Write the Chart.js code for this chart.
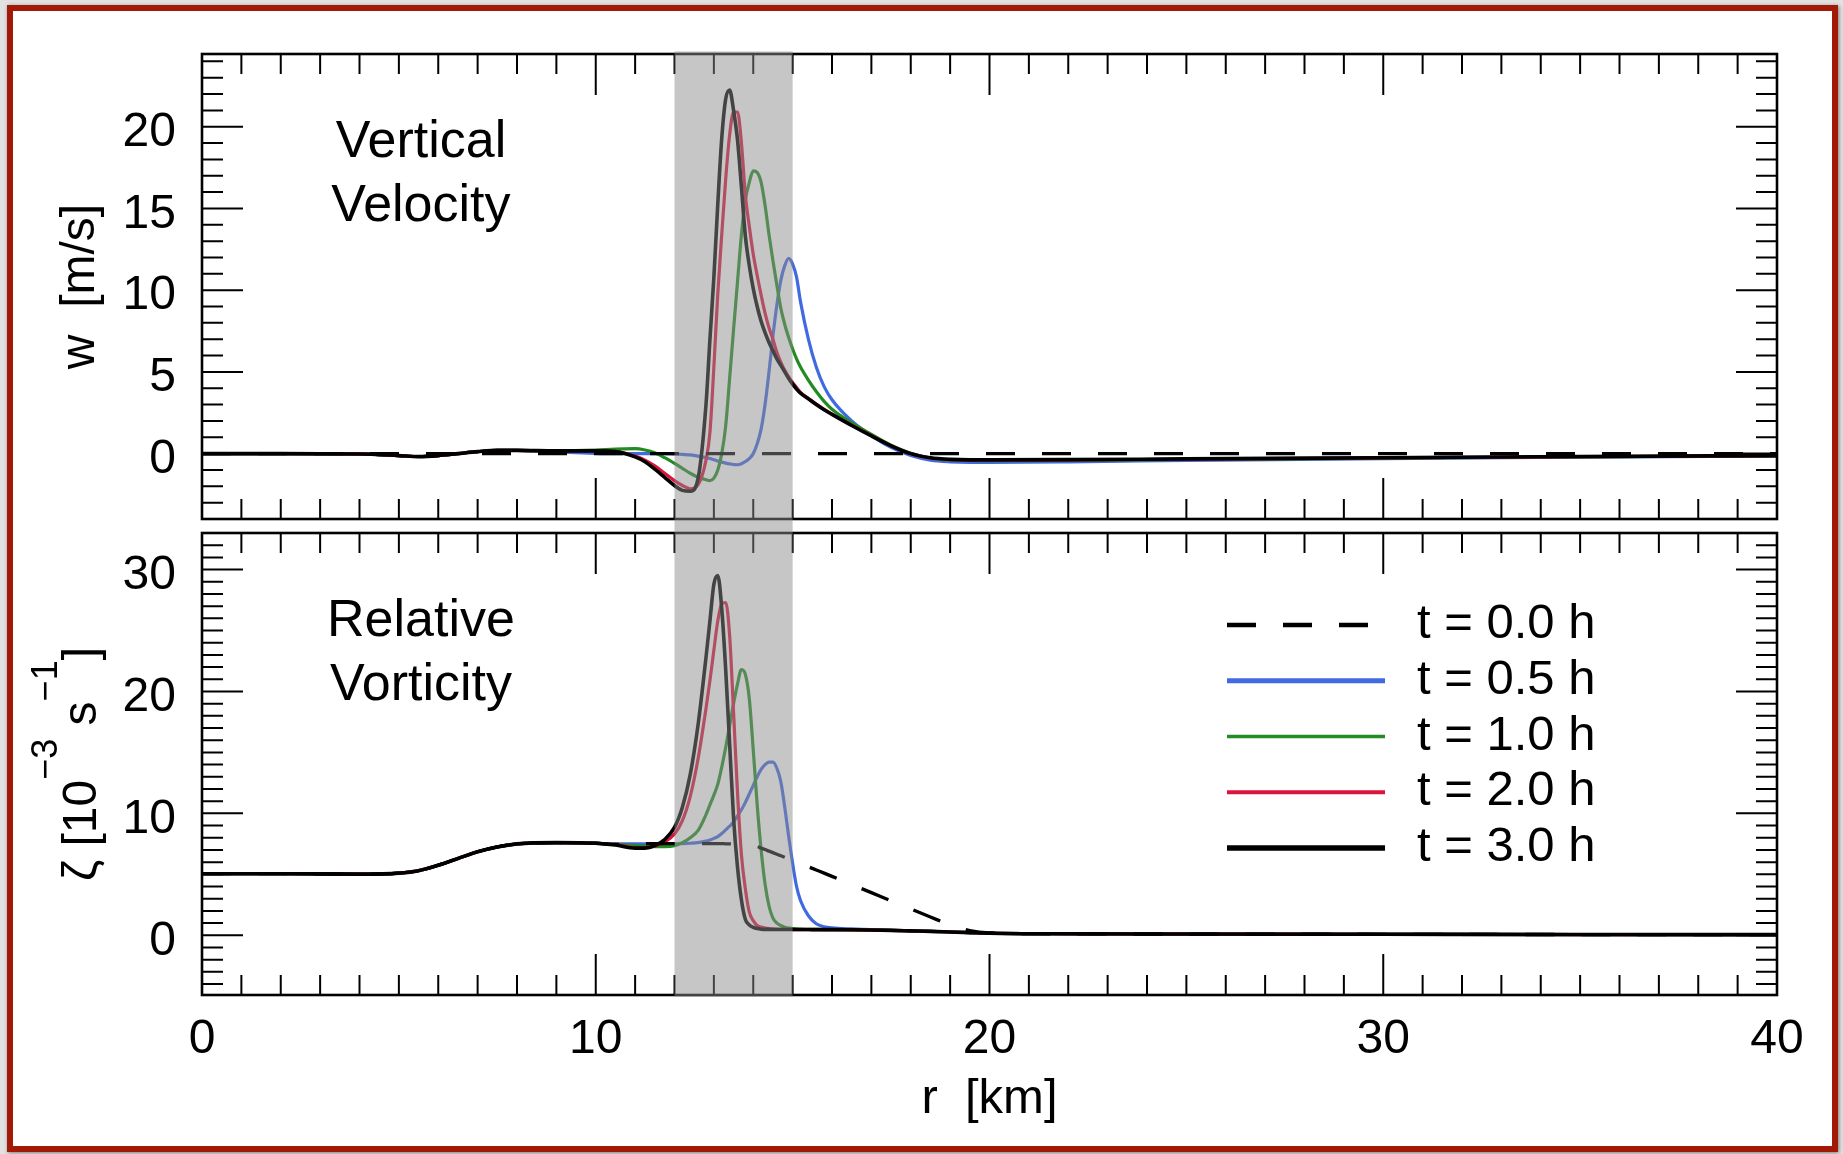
<!DOCTYPE html>
<html>
<head>
<meta charset="utf-8">
<title>Vertical velocity and relative vorticity</title>
<script src="https://cdn.jsdelivr.net/npm/chart.js@4.4.1/dist/chart.umd.min.js"></script>
<style>
  html, body { margin:0; padding:0; background:#e2e2e2; }
  #page { position:relative; width:1843px; height:1154px; overflow:hidden; background:#e2e2e2; }
  #frame { position:absolute; left:7px; top:5px; width:1819px; height:1135px; border:6px solid #a21a06; background:#fff; box-shadow:1px 1px 4px rgba(0,0,0,0.45); }
  canvas { position:absolute; left:0; }
  #cTop { top:0; }
  #cBot { top:526px; }
</style>
</head>
<body>
<div id="page">
  <div id="frame"></div>
  <canvas id="cTop" width="1843" height="526"></canvas>
  <canvas id="cBot" width="1843" height="628"></canvas>
</div>
<script>
// ---------------- data ----------------
const rKm = [0, 2, 4, 5, 5.5, 6, 6.5, 7, 7.5, 8, 9, 10, 10.5, 11, 11.25, 11.5, 11.75, 12,
  12.2, 12.4, 12.6, 12.8, 12.9, 13.0, 13.1, 13.2, 13.3, 13.4, 13.5, 13.6, 13.7, 13.8, 13.9,
  14.0, 14.1, 14.2, 14.3, 14.4, 14.5, 14.6, 14.7, 14.8, 14.9, 15.0, 15.1, 15.2, 15.4, 15.6,
  15.8, 16.0, 16.5, 17.0, 17.5, 18.0, 18.5, 19.0, 19.5, 20, 22, 25, 30, 35, 40];

const legendLabels = ['t = 0.0 h', 't = 0.5 h', 't = 1.0 h', 't = 2.0 h', 't = 3.0 h'];
const seriesColors = ['#000000', '#4169e1', '#228b22', '#dc143c', '#000000'];
const panelTitles = [['Vertical', 'Velocity'], ['Relative', 'Vorticity']];
const shadeKm = [12, 15];
const rRange = [0, 40];
const wRange = [-4, 24.45];
const zetaRange = [-4.9, 33];
const wTickStep = 5;
const zetaTickStep = 10;
const rTickStep = 10;

// vertical velocity w [m/s]
const wT00 = [0,0,0,0,0,0,0,0,0,0,0,0,0,0,0,0,0,0,0,0,0,0,0,0,0,0,0,0,0,0,0,0,0,
  0,0,0,0,0,0,0,0,0,0,0,0,0,0,0,0,0,0,0,0,0,0,0,0,0,0,0,0,0,0];
const wT05 = [0, 0, -0.02, -0.12, -0.18, -0.12, 0.0, 0.12, 0.2, 0.2, 0.1, 0.02, 0.0, 0.0, 0.0, 0.0, 0.0, -0.02,
  -0.05, -0.08, -0.15, -0.25, -0.3, -0.38, -0.45, -0.52, -0.58, -0.63, -0.67, -0.68, -0.62, -0.48, -0.3,
  0.0, 0.6, 1.5, 3.0, 5.0, 7.2, 9.1, 10.6, 11.5, 11.95, 11.6, 10.8, 9.3, 7.0, 5.3,
  4.1, 3.3, 2.0, 1.1, 0.38, -0.12, -0.4, -0.5, -0.53, -0.53, -0.5, -0.42, -0.3, -0.22, -0.15];
const wT10 = [0, 0, -0.02, -0.12, -0.18, -0.12, 0.0, 0.12, 0.2, 0.2, 0.17, 0.22, 0.28, 0.3, 0.22, 0.05, -0.25, -0.6,
  -0.9, -1.2, -1.45, -1.6, -1.65, -1.5, -1.0, 0.0, 1.7, 4.6, 7.6, 10.5, 13.4, 15.5, 16.6,
  17.3, 17.2, 16.6, 15.2, 13.4, 11.8, 10.3, 8.9, 7.9, 7.1, 6.4, 5.8, 5.3, 4.5, 3.8,
  3.2, 2.72, 1.88, 1.18, 0.52, 0.02, -0.28, -0.38, -0.42, -0.43, -0.42, -0.36, -0.28, -0.2, -0.14];
const wT20 = [0, 0, -0.02, -0.12, -0.18, -0.12, 0.0, 0.12, 0.2, 0.2, 0.17, 0.17, 0.13, -0.15, -0.4, -0.75, -1.2, -1.65,
  -1.95, -2.15, -1.9, -0.4, 1.3, 5.3, 9.8, 13.4, 16.8, 19.5, 20.9, 20.9, 19.0, 15.8, 13.9,
  12.2, 10.9, 9.7, 8.6, 7.7, 7.0, 6.2, 5.6, 5.1, 4.7, 4.35, 4.05, 3.75, 3.38, 3.03,
  2.71, 2.42, 1.74, 1.1, 0.49, 0.0, -0.27, -0.37, -0.4, -0.4, -0.39, -0.34, -0.26, -0.19, -0.13];
const wT30 = [0, 0, -0.02, -0.12, -0.18, -0.12, 0.0, 0.12, 0.2, 0.2, 0.17, 0.17, 0.12, -0.2, -0.5, -0.95, -1.45, -1.95,
  -2.25, -2.3, -1.5, 3.0, 7.0, 10.8, 15.3, 19.3, 21.7, 22.25, 21.0, 19.2, 16.3, 13.3, 11.5,
  10.1, 9.0, 8.1, 7.4, 6.8, 6.3, 5.8, 5.4, 5.0, 4.6, 4.25, 3.95, 3.7, 3.35, 3.0,
  2.68, 2.4, 1.72, 1.08, 0.48, 0.0, -0.25, -0.35, -0.38, -0.38, -0.37, -0.32, -0.25, -0.18, -0.12];

// relative vorticity zeta [1e-3 s^-1]
const zT00 = [5.05, 5.05, 5.02, 5.1, 5.3, 5.75, 6.3, 6.85, 7.25, 7.5, 7.6, 7.55, 7.45, 7.5, 7.52, 7.52, 7.52, 7.52,
  7.52, 7.52, 7.52, 7.52, 7.52, 7.52, 7.52, 7.52, 7.5, 7.5, 7.48, 7.46, 7.44, 7.42, 7.39,
  7.35, 7.27, 7.15, 7.03, 6.9, 6.78, 6.65, 6.52, 6.4, 6.27, 6.15, 6.02, 5.9, 5.62, 5.36,
  5.1, 4.83, 4.16, 3.5, 2.83, 2.17, 1.5, 0.85, 0.38, 0.2, 0.12, 0.1, 0.08, 0.06, 0.05];
const zT05 = [5.05, 5.05, 5.02, 5.1, 5.3, 5.75, 6.3, 6.85, 7.25, 7.5, 7.6, 7.55, 7.5, 7.5, 7.5, 7.5, 7.5, 7.5,
  7.52, 7.55, 7.6, 7.72, 7.82, 7.95, 8.1, 8.35, 8.65, 8.95, 9.3, 9.8, 10.3, 10.9, 11.6,
  12.3, 13.0, 13.6, 14.0, 14.2, 14.2, 13.7, 12.6, 10.5, 8.1, 5.9, 4.0, 2.85, 1.6, 0.95,
  0.7, 0.6, 0.52, 0.47, 0.4, 0.36, 0.32, 0.27, 0.22, 0.17, 0.12, 0.1, 0.08, 0.06, 0.05];
const zT10 = [5.05, 5.05, 5.02, 5.1, 5.3, 5.75, 6.3, 6.85, 7.25, 7.5, 7.6, 7.55, 7.45, 7.35, 7.3, 7.28, 7.28, 7.35,
  7.6, 8.0, 8.6, 9.9, 10.7, 11.5, 12.4, 13.8, 15.4, 17.2, 19.0, 20.6, 21.8, 21.4, 19.4,
  15.2, 10.7, 7.0, 4.2, 2.4, 1.4, 1.0, 0.8, 0.65, 0.58, 0.55, 0.52, 0.5, 0.49, 0.48,
  0.47, 0.47, 0.45, 0.43, 0.4, 0.36, 0.32, 0.27, 0.22, 0.17, 0.12, 0.1, 0.08, 0.06, 0.05];
const zT20 = [5.05, 5.05, 5.02, 5.1, 5.3, 5.75, 6.3, 6.85, 7.25, 7.5, 7.6, 7.55, 7.45, 7.2, 7.2, 7.32, 7.65, 8.3,
  9.4, 11.4, 14.5, 18.6, 20.9, 23.4, 25.8, 27.2, 27.3, 24.6, 18.3, 11.7, 6.6, 3.8, 1.9,
  1.2, 0.8, 0.68, 0.6, 0.55, 0.52, 0.5, 0.49, 0.48, 0.48, 0.47, 0.47, 0.47, 0.47, 0.47,
  0.46, 0.46, 0.45, 0.43, 0.4, 0.36, 0.32, 0.27, 0.22, 0.17, 0.12, 0.1, 0.08, 0.06, 0.05];
const zT30 = [5.05, 5.05, 5.02, 5.1, 5.3, 5.75, 6.3, 6.85, 7.25, 7.5, 7.6, 7.55, 7.4, 7.15, 7.15, 7.35, 7.85, 8.85,
  10.5, 13.2, 17.3, 22.8, 25.8, 28.8, 29.5, 26.8, 21.8, 15.7, 9.6, 5.6, 2.9, 1.3, 0.85,
  0.65, 0.55, 0.5, 0.48, 0.48, 0.47, 0.47, 0.47, 0.47, 0.47, 0.47, 0.47, 0.47, 0.47, 0.46,
  0.46, 0.46, 0.45, 0.43, 0.4, 0.36, 0.32, 0.27, 0.22, 0.17, 0.12, 0.1, 0.08, 0.06, 0.05];

// ---------------- rendering ----------------
const FONT = '"Liberation Sans", Arial, Helvetica, sans-serif';
Chart.defaults.font.family = FONT;
Chart.defaults.color = '#000';

function toPts(ys) { return rKm.map((r, i) => ({ x: r, y: ys[i] })); }

function makeSets(s00, s05, s10, s20, s30) {
  // index 0 is drawn on top by Chart.js
  const sets = [
    { label: legendLabels[0], data: toPts(s00), borderColor: seriesColors[0], borderWidth: 3.3, borderDash: [29, 27] },
    { label: legendLabels[4], data: toPts(s30), borderColor: seriesColors[4], borderWidth: 3.6 },
    { label: legendLabels[3], data: toPts(s20), borderColor: seriesColors[3], borderWidth: 3.2 },
    { label: legendLabels[2], data: toPts(s10), borderColor: seriesColors[2], borderWidth: 3.2 },
    { label: legendLabels[1], data: toPts(s05), borderColor: seriesColors[1], borderWidth: 3.2 }
  ];
  sets.forEach(d => Object.assign(d, { pointRadius: 0, fill: false, cubicInterpolationMode: 'monotone', borderCapStyle: 'butt', borderJoinStyle: 'round' }));
  return sets;
}

const boxPlugin = {
  id: 'boxPlugin',
  afterDraw(chart, args, o) {
    const { ctx, chartArea: a } = chart;
    const xs = chart.scales.x, ys = chart.scales.y;
    ctx.save();
    ctx.strokeStyle = '#000';
    ctx.lineWidth = 2;
    ctx.beginPath();
    for (let v = Math.ceil(xs.min); v <= xs.max; v += 1) {
      if (v === xs.min || v === xs.max) continue;
      const px = xs.getPixelForValue(v);
      const len = (v % rTickStep === 0) ? 41 : 20;
      ctx.moveTo(px, a.bottom); ctx.lineTo(px, a.bottom - len);
      ctx.moveTo(px, a.top); ctx.lineTo(px, a.top + len);
    }
    for (let v = Math.ceil(ys.min); v < ys.max; v += 1) {
      const py = ys.getPixelForValue(v);
      const len = (v % o.yMajor === 0) ? 41 : 21;
      ctx.moveTo(a.left, py); ctx.lineTo(a.left + len, py);
      ctx.moveTo(a.right, py); ctx.lineTo(a.right - len, py);
    }
    ctx.stroke();
    ctx.lineWidth = 2.6;
    ctx.strokeRect(a.left, a.top, a.right - a.left, a.bottom - a.top);

    // translucent gray band over the shaded radii
    const x0 = xs.getPixelForValue(shadeKm[0]), x1 = xs.getPixelForValue(shadeKm[1]);
    ctx.fillStyle = 'rgba(139,139,139,0.49)';
    const yTop = o.shadeUp ? 0 : a.top - 2.6;
    const yBot = o.shadeDown ? chart.height : a.bottom + 1.8;
    ctx.fillRect(x0, yTop, x1 - x0, yBot - yTop);

    // panel title
    ctx.fillStyle = '#000';
    ctx.font = '52px ' + FONT;
    ctx.textAlign = 'center';
    ctx.textBaseline = 'alphabetic';
    const tx = a.left + 0.139 * (a.right - a.left);
    o.title.forEach((t, i) => ctx.fillText(t, tx, a.top + 103 + i * 64));

    // legend
    if (o.legend) {
      const lx = a.left + 0.6508 * (a.right - a.left);
      const widths = [4.6, 5, 3.4, 3.8, 5.6];
      legendLabels.forEach((lab, i) => {
        const y = a.top + 92 + i * 55.75;
        ctx.strokeStyle = seriesColors[i];
        ctx.lineWidth = widths[i];
        ctx.setLineDash(i === 0 ? [29, 27] : []);
        ctx.beginPath(); ctx.moveTo(lx, y); ctx.lineTo(lx + 158, y); ctx.stroke();
        ctx.setLineDash([]);
        ctx.font = '49px ' + FONT;
        ctx.textAlign = 'left';
        ctx.fillText(lab, lx + 190, y + 13);
      });
    }

    // y-axis title with superscripts (lower panel)
    if (o.zetaTitle) {
      const parts = [['\u03B6 [10', 48, 0], ['\u22123', 36, 39], [' s', 48, 0], ['\u22121', 36, 39], [']', 48, 0]];
      let total = 0;
      parts.forEach(p => { ctx.font = p[1] + 'px ' + FONT; p.push(ctx.measureText(p[0]).width); total += p[3]; });
      ctx.translate(96, (a.top + a.bottom) / 2);
      ctx.rotate(-Math.PI / 2);
      ctx.textAlign = 'left';
      let x = -total / 2;
      parts.forEach(p => {
        ctx.font = p[1] + 'px ' + FONT;
        ctx.fillText(p[0], x, -p[2]);
        x += p[3];
      });
    }
    ctx.restore();
  }
};

const common = {
  responsive: false,
  animation: false,
  devicePixelRatio: 1,
  events: []
};

function yAxis(range, step, titleOpts) {
  return {
    type: 'linear', min: range[0], max: range[1],
    ticks: { stepSize: step, includeBounds: false, font: { size: 48 }, color: '#000', padding: 26, labelOffset: 6 },
    grid: { display: false, drawTicks: false },
    border: { display: false },
    title: titleOpts,
    afterFit(s) { s.width = 202; s.paddingTop = 0; s.paddingBottom = 0; }
  };
}

new Chart(document.getElementById('cTop'), {
  type: 'line',
  data: { datasets: makeSets(wT00, wT05, wT10, wT20, wT30) },
  options: Object.assign({}, common, {
    layout: { padding: { left: 0, right: 66, top: 54, bottom: 7 } },
    plugins: { legend: { display: false }, tooltip: { enabled: false },
      boxPlugin: { yMajor: wTickStep, title: panelTitles[0], shadeDown: true } },
    scales: {
      x: { type: 'linear', min: rRange[0], max: rRange[1], display: false },
      y: yAxis(wRange, wTickStep, { display: true, text: 'w  [m/s]', font: { size: 48 }, color: '#000', padding: { top: 52, bottom: 0 } })
    }
  }),
  plugins: [boxPlugin]
});

new Chart(document.getElementById('cBot'), {
  type: 'line',
  data: { datasets: makeSets(zT00, zT05, zT10, zT20, zT30) },
  options: Object.assign({}, common, {
    layout: { padding: { left: 0, right: 66, top: 7, bottom: 0 } },
    plugins: { legend: { display: false }, tooltip: { enabled: false },
      boxPlugin: { yMajor: zetaTickStep, title: panelTitles[1], shadeUp: true, legend: true, zetaTitle: true } },
    scales: {
      x: {
        type: 'linear', min: rRange[0], max: rRange[1], position: 'bottom',
        ticks: { stepSize: rTickStep, font: { size: 48 }, color: '#000', padding: 16, maxRotation: 0, autoSkip: false },
        grid: { display: false, drawTicks: false },
        border: { display: false },
        title: { display: true, text: 'r  [km]', font: { size: 49 }, color: '#000', padding: { top: 0, bottom: 25 } },
        afterFit(s) { s.height = 159; s.paddingLeft = 0; s.paddingRight = 0; }
      },
      y: yAxis(zetaRange, zetaTickStep, { display: false })
    }
  }),
  plugins: [boxPlugin]
});
</script>
</body>
</html>
